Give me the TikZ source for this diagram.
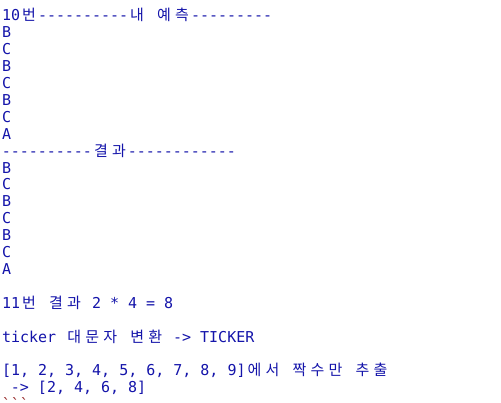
\documentclass[tikz,border=0pt]{standalone}
\usepackage{fontspec}
\newfontfamily\monof{DejaVu Sans Mono}
\newfontfamily\krf{Noto Sans CJK KR}
\definecolor{con}{RGB}{20,20,170}
\definecolor{tickc}{RGB}{150,40,40}
\newcommand\K[1]{\makebox[18pt][c]{\krf #1}}
\newcommand\C[1]{\makebox[9pt][c]{#1}}
\newcommand\spc{\makebox[9pt]{}}
\newcommand\dashes[1]{\foreach\i in {1,...,#1}{\C{-}}}
\tikzset{
  ln/.style={anchor=base west, inner sep=0pt, outer sep=0pt, text=con,
    font=\monof\fontsize{15pt}{17pt}\selectfont},
}
\begin{document}
\begin{tikzpicture}[x=1pt,y=1pt]
\fill[white] (0,0) rectangle (501,402);
\clip (0,0) rectangle (501,402);
\node[ln] (l0) at (2,381) {10\K{번}\dashes{10}\K{내}\spc\K{예}\K{측}\dashes{9}};
\node[ln] (l1) at (2,364.1) {B};
\node[ln] (l2) at (2,347.2) {C};
\node[ln] (l3) at (2,330.3) {B};
\node[ln] (l4) at (2,313.4) {C};
\node[ln] (l5) at (2,296.5) {B};
\node[ln] (l6) at (2,279.6) {C};
\node[ln] (l7) at (2,262.7) {A};
\node[ln] (l8) at (2,245.8) {\dashes{10}\K{결}\K{과}\dashes{12}};
\node[ln] (l9) at (2,228.9) {B};
\node[ln] (l10) at (2,212) {C};
\node[ln] (l11) at (2,195.1) {B};
\node[ln] (l12) at (2,178.2) {C};
\node[ln] (l13) at (2,161.3) {B};
\node[ln] (l14) at (2,144.4) {C};
\node[ln] (l15) at (2,127.5) {A};
\node[ln] (l17) at (2,93.7) {11\K{번}\spc\K{결}\K{과}\spc2\spc*\spc4\spc=\spc8};
\node[ln] (l19) at (2,59.9) {ticker\spc\K{대}\K{문}\K{자}\spc\K{변}\K{환}\spc\C{-}\C{>}\spc TICKER};
\node[ln] (l21) at (2,26.1) {[1,\spc2,\spc3,\spc4,\spc5,\spc6,\spc7,\spc8,\spc9]\K{에}\K{서}\spc\K{짝}\K{수}\K{만}\spc\K{추}\K{출}};
\node[ln] (l22) at (2,9.2) {\spc\C{-}\C{>}\spc[2,\spc4,\spc6,\spc8]};
\node[ln, text=tickc] (l23) at (2,-7.7) {\C{\symbol{96}}\C{\symbol{96}}\C{\symbol{96}}};
\end{tikzpicture}
\end{document}
